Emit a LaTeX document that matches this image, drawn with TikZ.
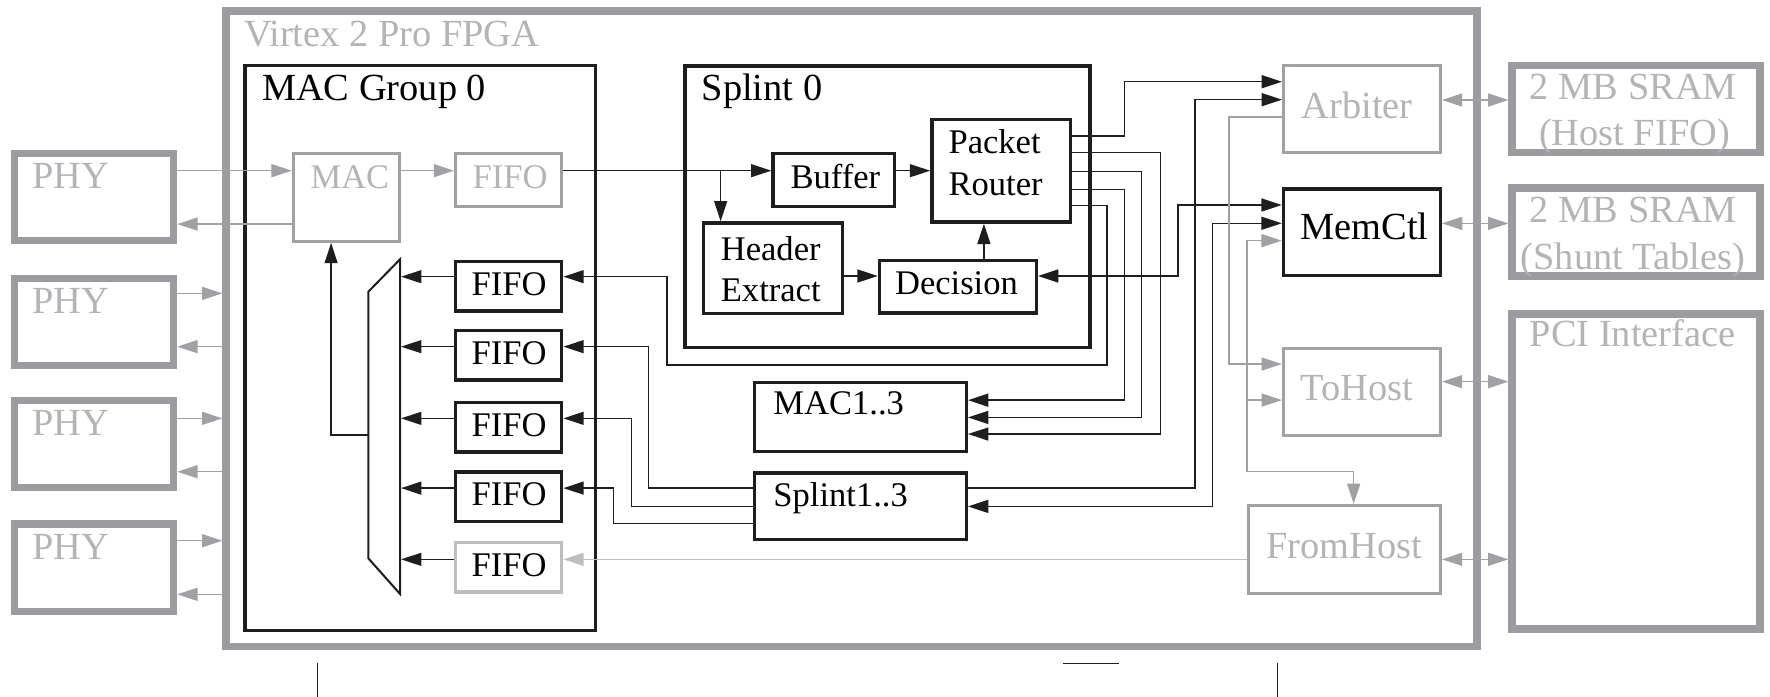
\documentclass[tikz,border=0pt]{standalone}
\usepackage{fontspec}
\setmainfont{Liberation Serif}
\usetikzlibrary{arrows.meta}
\definecolor{frame}{RGB}{155,155,160}
\definecolor{gbox}{RGB}{160,160,165}
\definecolor{gtext}{RGB}{180,180,184}
\definecolor{lgray}{RGB}{190,190,192}
\definecolor{ink}{RGB}{30,30,30}
\begin{document}
\begin{tikzpicture}[x=1pt,y=-1pt,
  big/.style={font=\fontsize{34}{40}\selectfont, inner sep=0pt},
  small/.style={font=\fontsize{30.6}{37}\selectfont, inner sep=0pt},
  blk/.style={draw=ink, line width=3pt, inner sep=0pt},
  gblk/.style={draw=gbox, line width=2.7pt, inner sep=0pt},
  hw/.style={draw=frame, line width=7pt, inner sep=0pt},
  wire/.style={draw=ink, line width=1.3pt},
  arr/.style={wire, -{Triangle[length=18pt,width=11.5pt]}},
  darr/.style={wire, {Triangle[length=18pt,width=11.5pt]}-{Triangle[length=18pt,width=11.5pt]}},
  gwire/.style={draw=gbox, line width=1.3pt},
  garr/.style={gwire, -{Triangle[length=18pt,width=11.5pt]}},
  gdarr/.style={gwire, {Triangle[length=18pt,width=11.5pt]}-{Triangle[length=18pt,width=11.5pt]}},
  larr/.style={draw=lgray, line width=1.3pt, -{Triangle[length=18pt,width=11.5pt]}},
]
\useasboundingbox (0,0) rectangle (1568,617.4);

% ---------- FPGA and external chips ----------
\node[hw, minimum width=1107.8pt, minimum height=562.7pt] (fpga) at (754.4,291.35) {};
\node[big, anchor=base west, text=gtext] (tfpga) at (216,40.8) {Virtex 2 Pro FPGA};

\foreach \i/\cy in {1/174.65, 2/285.25, 3/393.25, 4/502.95} {
  \node[hw, line width=6.5pt, minimum width=141pt, minimum height=77.3pt] (phy\i) at (83.3,\cy) {};
  \node[big, anchor=base west, text=gtext] (tphy\i) at (28.7,\cy-7.65) {PHY};
}

\node[hw, minimum width=219pt, minimum height=77.1pt] (sram1) at (1449.3,96.55) {};
\node[big, anchor=base, text=gtext] (tsram1a) at (1447,88) {2 MB SRAM};
\node[big, anchor=base, text=gtext] (tsram1b) at (1447.9,129) {(Host FIFO)};
\node[hw, minimum width=219pt, minimum height=77.8pt] (sram2) at (1449.3,205.5) {};
\node[big, anchor=base, text=gtext] (tsram2a) at (1447,197.3) {2 MB SRAM};
\node[big, anchor=base, text=gtext] (tsram2b) at (1446.6,238.6) {(Shunt Tables)};
\node[hw, minimum width=219pt, minimum height=279.1pt] (pci) at (1449.3,417.55) {};
\node[big, anchor=base west, text=gtext] (tpci) at (1355,307.2) {PCI Interface};

% ---------- MAC group 0 ----------
\node[blk, line width=3.2pt, minimum width=310.5pt, minimum height=500.6pt] (macg) at (372.25,308.3) {};
\node[big, anchor=base west] (tmacg) at (232,88.6) {MAC Group 0};

\node[gblk, minimum width=94pt, minimum height=78pt] (mac) at (306.8,174.8) {};
\node[small, anchor=base, text=gtext] (tmac) at (310,166.9) {MAC};
\node[gblk, minimum width=93.7pt, minimum height=47.3pt] (fifog) at (450.45,159.45) {};
\node[small, anchor=base, text=gtext] (tfifog) at (451.9,166.9) {FIFO};

\foreach \i/\cy in {1/253.5, 2/314.6, 3/378.5, 4/440} {
  \node[blk, minimum width=93.9pt, minimum height=44pt] (fifo\i) at (450.65,\cy) {};
  \node[small, anchor=base] (tfifo\i) at (451,\cy+8) {FIFO};
}
\node[draw=lgray, line width=3pt, inner sep=0pt, minimum width=93.9pt, minimum height=44pt] (fifo5) at (450.65,502.5) {};
\node[small, anchor=base] (tfifo5) at (451,510.5) {FIFO};

% output multiplexer
\coordinate (muxNE) at (354.4,229.7);
\coordinate (muxSE) at (354.4,526.2);
\coordinate (muxOut) at (326.3,385.4);
\draw[ink, line width=1.8pt, line join=miter] (muxNE) -- (326.3,258.4) -- (326.3,494.6) -- (muxSE) -- cycle;

% ---------- Splint 0 ----------
\node[blk, line width=3.2pt, minimum width=358.8pt, minimum height=249.6pt] (splint) at (786.1,183.1) {};
\node[big, anchor=base west] (tsplint) at (621.4,88.6) {Splint 0};

\node[blk, minimum width=107.8pt, minimum height=46.9pt] (buffer) at (738.7,159.25) {};
\node[small, anchor=base] (tbuffer) at (740,166.9) {Buffer};
\node[blk, minimum width=123pt, minimum height=90.8pt] (pr) at (887,151.3) {};
\node[small, anchor=base west] (tpr1) at (840.1,135.9) {Packet};
\node[small, anchor=base west] (tpr2) at (840.1,172.8) {Router};
\node[blk, minimum width=123.1pt, minimum height=80pt] (he) at (684.55,237.6) {};
\node[small, anchor=base west] (the1) at (638.4,230.4) {Header};
\node[small, anchor=base west] (the2) at (638.4,267.3) {Extract};
\node[blk, minimum width=138.9pt, minimum height=46.6pt] (dec) at (848.55,253.9) {};
\node[small, anchor=base] (tdec) at (847.3,260.5) {Decision};

% ---------- other MACs and Splints ----------
\node[blk, minimum width=187.7pt, minimum height=60.7pt] (mac13) at (762.15,369.45) {};
\node[small, anchor=base west] (tmac13) at (685,367.6) {MAC1..3};
\node[blk, minimum width=187.7pt, minimum height=59pt] (spl13) at (762.15,448.5) {};
\node[small, anchor=base west] (tspl13) at (685,448.3) {Splint1..3};

% ---------- host side ----------
\node[gblk, minimum width=139pt, minimum height=77.4pt] (arb) at (1206.5,96.7) {};
\node[big, anchor=base, text=gtext] (tarb) at (1202.2,104.8) {Arbiter};
\node[blk, minimum width=139pt, minimum height=76.8pt] (memctl) at (1206.5,205.7) {};
\node[big, anchor=base] (tmemctl) at (1208.9,212.6) {MemCtl};
\node[gblk, minimum width=139pt, minimum height=77pt] (tohost) at (1206.5,347.1) {};
\node[big, anchor=base, text=gtext] (ttohost) at (1202,355) {ToHost};
\node[gblk, minimum width=169.7pt, minimum height=78.2pt] (fromhost) at (1191.15,486.8) {};
\node[big, anchor=base, text=gtext] (tfromhost) at (1190.8,494.6) {FromHost};

% ---------- PHY links ----------
\draw[garr] (phy1.east |- 0,151.2) -- (mac.west |- 0,151.2);
\draw[garr] (mac.west |- 0,198.5) -- (phy1.east |- 0,198.5);
\foreach \i/\a/\b in {2/259.9/307.1, 3/370.6/417.9, 4/479/526.5} {
  \draw[garr] (phy\i.east |- 0,\a) -- (fpga.west |- 0,\a);
  \draw[garr] (fpga.west |- 0,\b) -- (phy\i.east |- 0,\b);
}
\draw[garr] (mac.east |- 0,151.2) -- (fifog.west |- 0,151.2);

% ---------- receive path through Splint 0 ----------
\draw[arr] (fifog.east |- 0,151.2) -- (buffer.west |- 0,151.2);
\draw[arr] (638.4,151.2) -- (he.north -| 638.4,0);
\draw[arr] (buffer.east |- 0,151.2) -- (pr.west |- 0,151.2);
\draw[arr] (he.east |- 0,244.5) -- (dec.west |- 0,244.5);
\draw[arr] (dec.north -| 871.6,0) -- (pr.south -| 871.6,0);

% packet router outputs
\draw[arr] (pr.east |- 0,120.5) -| (996.3,72.4) -- (arb.west |- 0,72.4);
\draw[arr] (pr.east |- 0,135.3) -| (1028,384.5) -- (mac13.east |- 0,384.5);
\draw[arr] (pr.east |- 0,152.1) -| (1011.4,369.8) -- (mac13.east |- 0,369.8);
\draw[arr] (pr.east |- 0,167.7) -| (996.3,354.5) -- (mac13.east |- 0,354.5);
\draw[arr] (pr.east |- 0,182.2) -| (980.5,323.4) -| (590.8,245.1) -- (fifo1.east |- 0,245.1);

% memory controller and arbiter links
\draw[darr] (dec.east |- 0,244.5) -| (1043.5,181.6) -- (memctl.west |- 0,181.6);
\draw[arr] (spl13.east |- 0,432.3) -| (1058.6,88.3) -- (arb.west |- 0,88.3);
\draw[darr] (spl13.east |- 0,448.6) -| (1074.2,197.8) -- (memctl.west |- 0,197.8);

% other Splints into the transmit FIFOs
\draw[arr] (spl13.west |- 0,432.3) -| (574.4,307.1) -- (fifo2.east |- 0,307.1);
\draw[arr] (spl13.west |- 0,448.9) -| (559.6,370.6) -- (fifo3.east |- 0,370.6);
\draw[arr] (spl13.west |- 0,463.6) -| (543.4,432.4) -- (fifo4.east |- 0,432.4);

% transmit FIFOs into the multiplexer, and on to the MAC
\foreach \i/\y in {1/245.1, 2/307.1, 3/370.6, 4/432.4, 5/495.5}
  \draw[arr] (fifo\i.west |- 0,\y) -- ([xshift=0.9pt]muxNE |- 0,\y);
\draw[arr] (muxOut) -| (mac.south -| 293.3,0);

% ---------- host side wiring ----------
\draw[garr] (arb.west |- 0,103.5) -| (1088.8,322.5) -- (tohost.west |- 0,322.5);
\coordinate (bus) at (1104.6,417.9);
\draw[garr] (bus) |- (memctl.west |- 0,213.2);
\draw[garr] (1104.6,354.4) -- (tohost.west |- 0,354.4);
\draw[garr] (bus) -| (fromhost.north -| 1199.2,0);
\draw[larr] (fromhost.west |- 0,495.5) -- (fifo5.east |- 0,495.5);

\draw[gdarr] (arb.east |- 0,88.6) -- (sram1.west |- 0,88.6);
\draw[gdarr] (memctl.east |- 0,197.9) -- (sram2.west |- 0,197.9);
\draw[gdarr] (tohost.east |- 0,338.1) -- (pci.west |- 0,338.1);
\draw[gdarr] (fromhost.east |- 0,495.5) -- (pci.west |- 0,495.5);

% ---------- marks below the frame ----------
\draw[ink, line width=1.2pt] (281.3,587.6) -- (281.3,617.4);
\draw[ink, line width=1.2pt] (1131.6,587.6) -- (1131.6,617.4);
\draw[ink, line width=1.2pt] (941.7,587.6) -- (991,587.6);
\end{tikzpicture}
\end{document}
